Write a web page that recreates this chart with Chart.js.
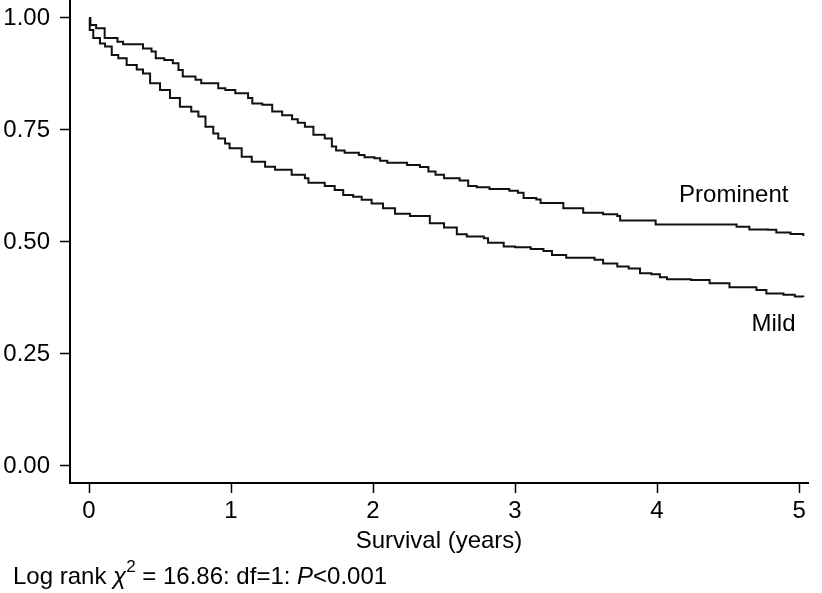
<!DOCTYPE html>
<html>
<head>
<meta charset="utf-8">
<script src="https://cdn.jsdelivr.net/npm/chart.js@4.4.1/dist/chart.umd.min.js"></script>
<style>
  html, body { margin: 0; padding: 0; background: #fff; }
  #wrap { width: 822px; height: 593px; }
</style>
</head>
<body>
<div id="wrap"><canvas id="grafico"></canvas></div>
<script>
// Kaplan-Meier curves (time in years, survival fraction)
const tempoProminent = [0, 0.01, 0.05, 0.11, 0.2, 0.24, 0.38, 0.44, 0.47, 0.53, 0.59, 0.63, 0.66, 0.75, 0.79, 0.91, 0.96, 1.03, 1.12, 1.15, 1.22, 1.29, 1.36, 1.43, 1.47, 1.52, 1.58, 1.66, 1.71, 1.74, 1.80, 1.90, 1.94, 2.01, 2.05, 2.10, 2.24, 2.33, 2.39, 2.44, 2.50, 2.61, 2.67, 2.73, 2.82, 2.96, 3.02, 3.06, 3.15, 3.18, 3.34, 3.48, 3.62, 3.72, 3.74, 3.99, 4.56, 4.65, 4.78, 4.84, 4.94, 5.03];
const survProminent = [1.0, 0.984, 0.977, 0.955, 0.947, 0.941, 0.932, 0.925, 0.910, 0.906, 0.899, 0.884, 0.869, 0.862, 0.854, 0.843, 0.839, 0.832, 0.821, 0.809, 0.806, 0.791, 0.783, 0.774, 0.766, 0.757, 0.739, 0.731, 0.713, 0.704, 0.699, 0.694, 0.689, 0.687, 0.681, 0.677, 0.672, 0.667, 0.657, 0.650, 0.642, 0.637, 0.625, 0.622, 0.618, 0.614, 0.610, 0.598, 0.595, 0.587, 0.575, 0.565, 0.562, 0.558, 0.548, 0.539, 0.534, 0.528, 0.527, 0.521, 0.518, 0.513];

const tempoMild = [0, 0.005, 0.03, 0.077, 0.113, 0.16, 0.206, 0.265, 0.336, 0.38, 0.43, 0.50, 0.57, 0.64, 0.72, 0.77, 0.82, 0.875, 0.91, 0.958, 0.99, 1.075, 1.146, 1.24, 1.31, 1.427, 1.52, 1.545, 1.66, 1.73, 1.79, 1.86, 1.92, 1.99, 2.07, 2.155, 2.26, 2.40, 2.50, 2.59, 2.66, 2.78, 2.81, 2.92, 3.0, 3.11, 3.20, 3.26, 3.36, 3.56, 3.62, 3.72, 3.80, 3.88, 3.96, 4.02, 4.07, 4.24, 4.37, 4.51, 4.70, 4.77, 4.89, 4.97, 5.03];
const survMild = [1.0, 0.973, 0.955, 0.943, 0.936, 0.917, 0.910, 0.895, 0.885, 0.876, 0.854, 0.839, 0.821, 0.802, 0.791, 0.780, 0.757, 0.742, 0.731, 0.720, 0.709, 0.690, 0.679, 0.668, 0.661, 0.650, 0.642, 0.632, 0.625, 0.616, 0.605, 0.601, 0.594, 0.586, 0.575, 0.563, 0.558, 0.542, 0.532, 0.517, 0.512, 0.508, 0.498, 0.490, 0.488, 0.484, 0.480, 0.471, 0.465, 0.460, 0.452, 0.445, 0.441, 0.430, 0.428, 0.421, 0.417, 0.415, 0.408, 0.399, 0.393, 0.385, 0.382, 0.378, 0.377];

const ticksX = [0, 1, 2, 3, 4, 5];
const ticksY = [0, 0.25, 0.5, 0.75, 1];
const nomesGrupos = ['Prominent', 'Mild'];
const tituloX = 'Survival (years)';

const fonte = '"Liberation Sans", Arial, Helvetica, sans-serif';
const corTexto = '#000000';
const corLinha = '#111111';

const pontos = (t, s) => t.map((v, i) => ({ x: v, y: s[i] }));

// rotulos dentro do grafico + nota do log-rank
const rotulos = {
    id: 'rotulos',
    afterDraw(chart) {
        const { ctx, scales: { x, y } } = chart;
        ctx.save();
        ctx.fillStyle = corTexto;
        ctx.textBaseline = 'middle';
        ctx.textAlign = 'center';
        ctx.font = '24px ' + fonte;
        ctx.fillText(nomesGrupos[0], x.getPixelForValue(4.54), y.getPixelForValue(0.605));
        ctx.fillText(nomesGrupos[1], x.getPixelForValue(4.82), y.getPixelForValue(0.316));

        // Log rank chi^2 = 16.86: df=1: P<0.001
        ctx.textAlign = 'left';
        let px = 13;
        const py = 577;
        const partes = [
            { t: 'Log rank ', f: '24px ' + fonte, dy: 0 },
            { t: '\u03C7', f: 'italic 24px ' + fonte, dy: 0 },
            { t: '2', f: '17px ' + fonte, dy: -10 },
            { t: ' = 16.86: df=1: ', f: '24px ' + fonte, dy: 0 },
            { t: 'P', f: 'italic 24px ' + fonte, dy: 0 },
            { t: '<0.001', f: '24px ' + fonte, dy: 0 }
        ];
        partes.forEach(p => {
            ctx.font = p.f;
            ctx.fillText(p.t, px, py + p.dy);
            px += ctx.measureText(p.t).width;
        });
        ctx.restore();
    }
};

const ctx = document.getElementById('grafico').getContext('2d');
new Chart(ctx, {
    type: 'line',
    data: {
        datasets: [{
            label: nomesGrupos[0],
            data: pontos(tempoProminent, survProminent),
            borderColor: corLinha,
            borderWidth: 2,
            pointRadius: 0,
            stepped: true,
            fill: false
        }, {
            label: nomesGrupos[1],
            data: pontos(tempoMild, survMild),
            borderColor: corLinha,
            borderWidth: 2,
            pointRadius: 0,
            stepped: true,
            fill: false
        }]
    },
    options: {
        responsive: true,
        maintainAspectRatio: false,
        animation: false,
        layout: {
            padding: { left: 0, right: 14, top: 0, bottom: 0 }
        },
        scales: {
            x: {
                type: 'linear',
                min: -0.134,
                max: 5.063,
                afterBuildTicks: s => { s.ticks = ticksX.map(v => ({ value: v })); },
                afterFit: s => { s.height = 110; s.paddingLeft = 0; s.paddingRight = 0; },
                ticks: {
                    color: corTexto,
                    font: { family: fonte, size: 24 },
                    padding: 4,
                    maxRotation: 0,
                    callback: v => String(v)
                },
                grid: {
                    drawOnChartArea: false,
                    drawTicks: true,
                    tickLength: 10,
                    tickWidth: 1.5,
                    tickColor: '#000'
                },
                border: { display: true, color: '#000', width: 2 },
                title: {
                    display: true,
                    text: tituloX,
                    color: corTexto,
                    font: { family: fonte, size: 24 },
                    padding: { top: 0, bottom: 37 }
                }
            },
            y: {
                min: -0.038,
                max: 1.04,
                afterBuildTicks: s => { s.ticks = ticksY.map(v => ({ value: v })); },
                afterFit: s => { s.width = 70; s.paddingTop = 0; s.paddingBottom = 0; },
                ticks: {
                    color: corTexto,
                    font: { family: fonte, size: 24 },
                    padding: 10,
                    callback: v => Number(v).toFixed(2)
                },
                grid: {
                    drawOnChartArea: false,
                    drawTicks: true,
                    tickLength: 10,
                    tickWidth: 1.5,
                    tickColor: '#000'
                },
                border: { display: true, color: '#000', width: 2 }
            }
        },
        plugins: {
            legend: { display: false },
            tooltip: { enabled: false }
        }
    },
    plugins: [rotulos]
});
</script>
</body>
</html>
